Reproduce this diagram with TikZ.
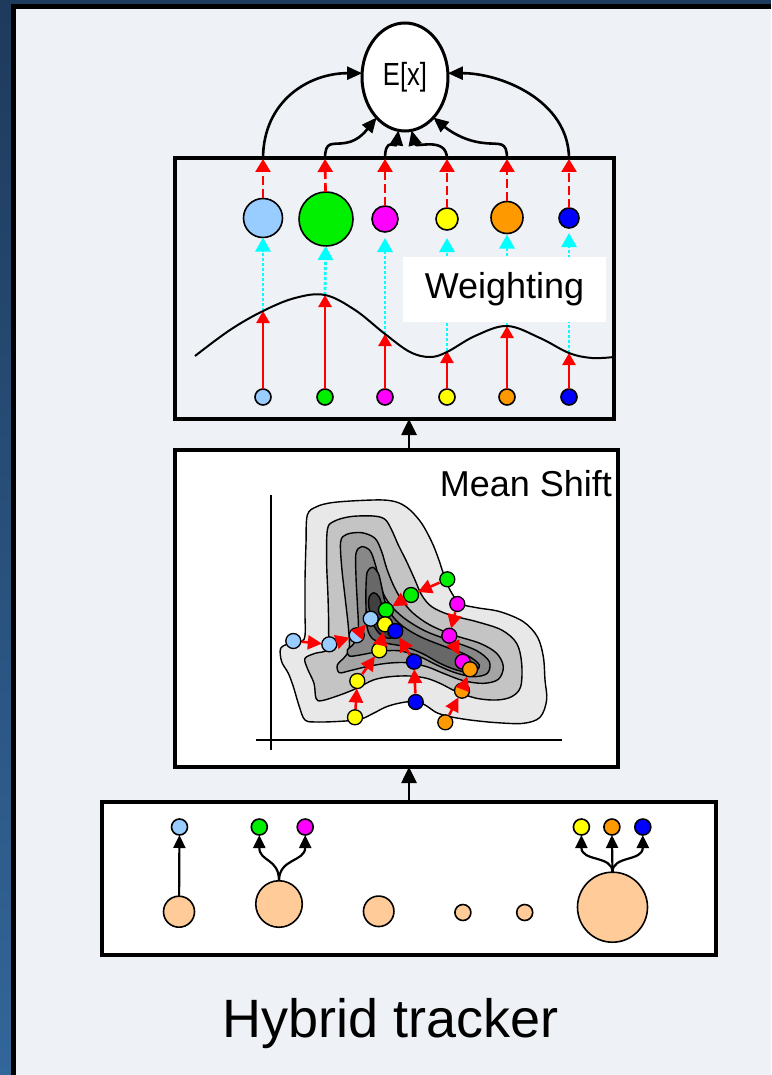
\documentclass[tikz,border=0pt]{standalone}
\usepackage{fontspec}
\setmainfont{Liberation Sans}
\usetikzlibrary{arrows.meta,shapes.geometric}
\definecolor{lb}{HTML}{99CCFF}
\definecolor{gr}{HTML}{00F000}
\definecolor{mg}{HTML}{FF00FF}
\definecolor{yl}{HTML}{FFFF00}
\definecolor{orn}{HTML}{FF9900}
\definecolor{bl}{HTML}{0000FF}
\definecolor{peach}{HTML}{FFCC99}
\definecolor{bgc}{HTML}{EEF1F5}
\definecolor{navya}{HTML}{1E3A5C}
\definecolor{navyb}{HTML}{336699}
\definecolor{cya}{HTML}{00FFFF}
\definecolor{gA}{HTML}{E8E8E8}
\definecolor{gB}{HTML}{C4C4C4}
\definecolor{gC}{HTML}{A4A4A4}
\definecolor{gD}{HTML}{888888}
\definecolor{gE}{HTML}{686868}
\definecolor{gF}{HTML}{404040}
\begin{document}
\begin{tikzpicture}[x=1pt,y=-1pt,
  every node/.style={inner sep=0pt,outer sep=0pt},
  frame/.style={draw=black,line width=3.5pt},
  dotc/.style={circle,draw=black,line width=1.6pt,fill=#1},
  pch/.style={circle,draw=black,line width=1.6pt,fill=peach},
  blkarr/.style={draw=black,line width=2.6pt,-{Triangle[length=15pt,width=13pt]}},
  blkthin/.style={draw=black,line width=2.2pt,-{Triangle[length=13pt,width=12pt]}},
  redarr/.style={draw=red,line width=2.6pt,-{Triangle[length=12pt,width=13pt]},color=red},
  reddash/.style={draw=red,line width=2.6pt,dash pattern=on 9pt off 4pt,-{Triangle[length=13pt,width=15pt]},color=red},
  cyanarr/.style={draw=cya,line width=2.8pt,dash pattern=on 3pt off 2pt,-{Triangle[length=14pt,width=15pt]},color=cya},
  msarr/.style={draw=red,line width=2.6pt,-{Triangle[length=14pt,width=14pt]},color=red,shorten <=1pt},
  contour/.style={draw=black,line width=1.4pt,fill=#1},
  lbl/.style={font=\fontsize{36}{40}\selectfont}
]
\useasboundingbox (0,0) rectangle (771,1075);
% frame and background
\shade[top color=navya,bottom color=navyb] (0,0) rectangle (11,1075);
\fill[navya] (0,0) rectangle (771,4);
\fill[black] (11,4) rectangle (771,9);
\fill[black] (11,4) rectangle (16,1075);
\fill[bgc] (16,9) rectangle (771,1075);

% boxes
\node[frame,minimum width=439pt,minimum height=261pt] (wb) at (394.5,288.5) {};
\node[frame,fill=white,minimum width=443pt,minimum height=317pt] (ms) at (396.5,608.5) {};
\node[frame,fill=white,minimum width=614pt,minimum height=153pt] (bt) at (409,878.5) {};

% E[x]
\node[ellipse,draw=black,line width=3pt,fill=white,minimum width=86pt,minimum height=108pt,font=\fontsize{32}{36}\selectfont] (ex) at (405,77) {\scalebox{0.8}[1]{E[x]}};

% weighting column points
\foreach \i/\x in {1/263,2/325,3/385,4/447,5/507,6/569}{
  \coordinate (t\i) at (\x,159);
}
\coordinate (c1) at (263,311);
\coordinate (c2) at (325,295);
\coordinate (c3) at (385,334);
\coordinate (c4) at (447,351);
\coordinate (c5) at (507,326);
\coordinate (c6) at (569,353);

\node[dotc=lb,minimum size=16pt] (b1) at (263,397) {};
\node[dotc=gr,minimum size=16pt] (b2) at (325,397) {};
\node[dotc=mg,minimum size=16pt] (b3) at (385,397) {};
\node[dotc=yl,minimum size=16pt] (b4) at (447,397) {};
\node[dotc=orn,minimum size=16pt] (b5) at (507,397) {};
\node[dotc=bl,minimum size=16pt] (b6) at (569,397) {};

\node[dotc=lb,minimum size=39pt] (u1) at (263,218) {};
\node[dotc=gr,minimum size=54pt] (u2) at (326,219) {};
\node[dotc=mg,minimum size=26pt] (u3) at (385,219) {};
\node[dotc=yl,minimum size=22pt] (u4) at (447,219) {};
\node[dotc=orn,minimum size=32pt] (u5) at (507,217.5) {};
\node[dotc=bl,minimum size=20pt] (u6) at (569,218) {};

% cyan dotted arrows
\draw[cyanarr] (c1) -- (u1);
\draw[cyanarr] (c2) -- (u2);
\draw[cyanarr,shorten >=6pt] (c3) -- (u3);
\draw[cyanarr,shorten >=8pt] (c4) -- (u4);
\draw[cyanarr,shorten >=1pt] (c5) -- (u5);
\draw[cyanarr,shorten >=5pt] (c6) -- (u6);

% label Weighting
\node[fill=white,minimum width=203pt,minimum height=65pt,anchor=north west,lbl] (wl) at (403,257) {Weighting};

% red arrows bottom to curve
\foreach \i in {1,...,6}{
  \draw[redarr] (b\i) -- (c\i);
  \draw[reddash] (u\i) -- (t\i);
}

% curve
\draw[black,line width=2pt] plot[smooth,tension=0.6] coordinates {(195,356) (230,330) (263,311) (295,298) (325,295) (355,310) (385,334) (410,352) (430,357) (447,352) (475,336) (507,326) (540,338) (569,353) (592,358) (614,357)};

% arrows into E[x]
\draw[blkarr] (t1) .. controls (263,100) and (310,73) .. (ex.175);
\draw[blkarr] (t6) .. controls (569,100) and (500,73) .. (ex.5);
\draw[blkarr] (t2) .. controls (325,140) and (332,145) .. (345,143) .. controls (360,141) and (368,128) .. (ex.235);
\draw[blkarr] (t5) .. controls (507,140) and (500,145) .. (484,143) .. controls (462,141) and (446,128) .. (ex.305);
\draw[blkarr] (t3) .. controls (385,136) and (396,148) .. (ex.263);
\draw[blkarr] (t4) .. controls (447,136) and (416,148) .. (ex.277);

% between boxes
\draw[blkarr,-{Triangle[length=16pt,width=15pt]}] (ms.north -| bt.north) -- (wb.south -| bt.north);
\draw[blkarr,-{Triangle[length=16pt,width=15pt]}] (bt.north) -- (ms.south -| bt.north);

% Mean shift
\node[lbl,anchor=base east] (mst) at (612,496) {Mean Shift};
\coordinate (ya) at (271,495);
\coordinate (yb) at (271,750);
\coordinate (xa) at (256,740);
\coordinate (xb) at (562,740);
\draw[black,line width=2pt] (ya) -- (yb);
\draw[black,line width=2pt] (xa) -- (xb);

\begin{scope}[shift={(250,480)},scale=1/3]
\draw[contour=gA] plot[smooth cycle,tension=0.55] coordinates {(172,105) (200,80) (245,68) (320,62) (400,60) (445,68) (480,90) (515,130) (545,185) (565,235) (580,280) (600,330) (630,370) (680,383) (750,395) (820,425) (862,470) (880,530) (885,600) (890,660) (870,712) (820,730) (740,728) (660,720) (600,710) (560,698) (530,678) (500,664) (455,668) (410,680) (370,700) (330,718) (270,724) (200,726) (165,720) (148,680) (130,620) (115,580) (95,545) (92,505) (120,490) (162,478) (165,400) (165,300) (168,190)};
\draw[contour=gB] plot[smooth cycle,tension=0.55] coordinates {(232,150) (250,125) (300,110) (370,108) (405,118) (425,150) (445,195) (470,245) (495,300) (515,345) (545,380) (600,405) (680,425) (755,450) (800,490) (815,550) (812,620) (785,650) (740,660) (680,655) (620,635) (570,610) (530,595) (480,588) (420,590) (370,600) (320,625) (270,645) (215,662) (198,655) (192,610) (172,565) (165,535) (195,520) (232,508) (236,450) (234,350) (230,250)};
\draw[contour=gC] plot[smooth cycle,tension=0.55] coordinates {(272,185) (290,163) (335,158) (375,175) (395,215) (410,265) (430,315) (455,360) (490,400) (540,435) (610,465) (690,490) (740,520) (760,560) (745,598) (700,610) (640,602) (580,580) (530,560) (470,548) (410,550) (350,560) (300,572) (268,578) (262,555) (285,530) (298,505) (295,440) (285,350) (275,260)};
\draw[contour=gD] plot[smooth cycle,tension=0.55] coordinates {(318,220) (335,200) (360,212) (375,250) (388,300) (402,345) (430,385) (470,420) (530,455) (610,485) (680,512) (718,545) (712,580) (670,590) (615,578) (560,555) (505,528) (445,512) (385,515) (330,525) (298,528) (292,510) (312,490) (325,450) (322,370) (318,290)};
\draw[contour=gE] plot[smooth cycle,tension=0.55] coordinates {(352,275) (368,262) (385,280) (395,320) (405,365) (425,405) (460,440) (515,472) (585,500) (650,525) (688,555) (668,578) (620,570) (570,550) (520,522) (465,500) (410,490) (370,478) (352,445) (348,380) (348,320)};
\draw[contour=gF] plot[smooth cycle,tension=0.55] coordinates {(358,350) (372,338) (388,352) (398,385) (410,415) (428,442) (435,468) (415,475) (390,462) (372,438) (362,405) (356,375)};
\end{scope}

% mean-shift samples
\foreach \n/\c/\x/\y in {L1/lb/293.3/641, L2/lb/329.3/644.3, L3/lb/356.7/635.3, L4/lb/370.7/618.7,
  G1/gr/447.3/579.3, G2/gr/411/595, G3/gr/386/610,
  M1/mg/457.3/604, M2/mg/449.3/635.7, M3/mg/462.7/661.7,
  Y1/yl/355/717.3, Y2/yl/357.3/681, Y3/yl/379.3/650.3, Y4/yl/385/624.3,
  B1/bl/415.7/702, B2/bl/414/661.7, B3/bl/395.3/631,
  O1/orn/445.3/722.3, O2/orn/462/690.7, O3/orn/470/669.3}{
  \node[dotc=\c,line width=1.3pt,minimum size=15pt] (\n) at (\x,\y) {};
}
\foreach \a/\b in {L1/L2,L2/L3,L3/L4,G1/G2,G2/G3,M1/M2,M2/M3,Y1/Y2,Y2/Y3,Y3/Y4,B1/B2,B2/B3,O1/O2,O2/O3}{
  \draw[msarr] (\a) -- (\b);
}

% bottom box
\node[dotc=lb,minimum size=16pt] (s1) at (179.5,827) {};
\node[dotc=gr,minimum size=16pt] (s2) at (259.3,827) {};
\node[dotc=mg,minimum size=16pt] (s3) at (305.2,827) {};
\node[dotc=yl,minimum size=16pt] (s4) at (581.4,827) {};
\node[dotc=orn,minimum size=16pt] (s5) at (611.9,827) {};
\node[dotc=bl,minimum size=16pt] (s6) at (642.8,827) {};

\node[pch,minimum size=31pt] (p1) at (179,911.7) {};
\node[pch,minimum size=46.5pt] (p2) at (279,904) {};
\node[pch,minimum size=30.5pt] (p3) at (378.7,911.3) {};
\node[pch,minimum size=16pt] (p4) at (462.9,912.5) {};
\node[pch,minimum size=16pt] (p5) at (524.7,912.5) {};
\node[pch,minimum size=70pt] (p6) at (612.5,907.2) {};

\draw[blkthin] (p1) -- (s1);
\draw[blkthin] (p2.north) .. controls (279,858) and (259.3,862) .. (s2.south);
\draw[blkthin] (p2.north) .. controls (279,858) and (305.2,862) .. (s3.south);
\draw[blkthin] (p6.north) .. controls (612.5,855) and (581.4,862) .. (s4.south);
\draw[blkthin] (p6.north) -- (s5.south);
\draw[blkthin] (p6.north) .. controls (612.5,855) and (642.8,862) .. (s6.south);

% title
\node[anchor=base,font=\fontsize{54}{60}\selectfont] (ttl) at (391,1037) {Hybrid tracker};
\end{tikzpicture}
\end{document}
